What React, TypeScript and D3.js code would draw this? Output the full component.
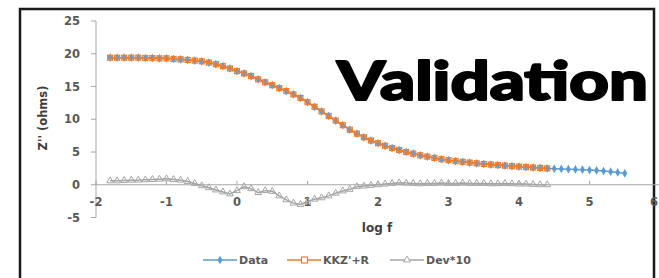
import React, { useEffect, useRef } from 'react';
import * as d3 from 'd3';

// log f values (one point per 0.1 decade)
const logF = [
  -1.8, -1.7, -1.6, -1.5, -1.4, -1.3, -1.2, -1.1, -1.0, -0.9,
  -0.8, -0.7, -0.6, -0.5, -0.4, -0.3, -0.2, -0.1, 0.0, 0.1,
  0.2, 0.3, 0.4, 0.5, 0.6, 0.7, 0.8, 0.9, 1.0, 1.1,
  1.2, 1.3, 1.4, 1.5, 1.6, 1.7, 1.8, 1.9, 2.0, 2.1,
  2.2, 2.3, 2.4, 2.5, 2.6, 2.7, 2.8, 2.9, 3.0, 3.1,
  3.2, 3.3, 3.4, 3.5, 3.6, 3.7, 3.8, 3.9, 4.0, 4.1,
  4.2, 4.3, 4.4, 4.5, 4.6, 4.7, 4.8, 4.9, 5.0, 5.1,
  5.2, 5.3, 5.4, 5.5,
];

// measured Z'' (ohms)
const dataZ = [
  19.4, 19.4, 19.4, 19.4, 19.4, 19.35, 19.35, 19.3, 19.3, 19.2,
  19.15, 19.05, 18.95, 18.85, 18.65, 18.4, 18.1, 17.75, 17.35, 17.0,
  16.6, 16.1, 15.65, 15.2, 14.75, 14.3, 13.8, 13.25, 12.6, 11.9,
  11.2, 10.5, 9.8, 9.1, 8.4, 7.8, 7.25, 6.75, 6.35, 5.95,
  5.6, 5.3, 5.0, 4.75, 4.5, 4.3, 4.1, 3.9, 3.75, 3.62,
  3.5, 3.38, 3.27, 3.17, 3.08, 3.0, 2.92, 2.84, 2.77, 2.7,
  2.63, 2.57, 2.5, 2.45, 2.42, 2.38, 2.34, 2.3, 2.25, 2.18,
  2.1, 2.0, 1.88, 1.75,
];

// KK fit, covers logF -1.8 .. 4.4
const kkZ = [
  19.4, 19.4, 19.4, 19.4, 19.4, 19.35, 19.35, 19.3, 19.3, 19.2,
  19.15, 19.05, 18.95, 18.85, 18.65, 18.4, 18.1, 17.75, 17.35, 17.0,
  16.6, 16.1, 15.65, 15.2, 14.75, 14.3, 13.8, 13.25, 12.6, 11.9,
  11.2, 10.5, 9.8, 9.1, 8.4, 7.8, 7.25, 6.75, 6.35, 5.95,
  5.6, 5.3, 5.0, 4.75, 4.5, 4.3, 4.1, 3.9, 3.75, 3.62,
  3.5, 3.38, 3.27, 3.17, 3.08, 3.0, 2.92, 2.84, 2.77, 2.7,
  2.63, 2.57, 2.5,
];

// deviation x10, covers logF -1.8 .. 4.4
const dev10 = [
  0.6, 0.6, 0.65, 0.7, 0.7, 0.75, 0.8, 0.85, 0.9, 0.8,
  0.7, 0.5, 0.2, -0.15, -0.45, -0.8, -1.1, -1.4, -0.9, -0.3,
  -0.6, -1.2, -0.9, -1.0, -1.7, -2.3, -2.8, -3.0, -2.6, -2.2,
  -2.0, -1.7, -1.3, -0.95, -0.7, -0.3, -0.2, -0.1, 0.0, 0.1,
  0.2, 0.3, 0.25, 0.2, 0.15, 0.2, 0.2, 0.25, 0.2, 0.2,
  0.25, 0.2, 0.2, 0.2, 0.15, 0.15, 0.2, 0.15, 0.1, 0.1,
  0.05, 0.0, 0.0,
];

const xTicks = [-2, -1, 0, 1, 2, 3, 4, 5, 6];
const yTicks = [-5, 0, 5, 10, 15, 20, 25];
const seriesNames = ['Data', "KKZ'+R", 'Dev*10'];

const BLUE = '#5b9bd5';
const ORANGE = '#ed7d31';
const GRAY = '#a5a5a5';

const App: React.FC = () => {
  const svgRef = useRef<SVGSVGElement>(null);

  useEffect(() => {
    if (!svgRef.current) return;
    const svg = d3.select(svgRef.current);
    svg.selectAll('*').remove();

    const x = d3.scaleLinear().domain([-2, 6]).range([96, 660]);
    const y = d3.scaleLinear().domain([-5, 25]).range([217.5, 21]);

    // outer frame
    svg.append('rect')
      .attr('x', 20).attr('y', 9)
      .attr('width', 634).attr('height', 300)
      .attr('fill', 'white')
      .attr('stroke', '#1a1a1a')
      .attr('stroke-width', 2.5);

    // y axis
    svg.append('line')
      .attr('x1', x(-2)).attr('x2', x(-2))
      .attr('y1', y(25)).attr('y2', y(-5))
      .attr('stroke', '#a6a6a6');
    svg.selectAll('.ytick')
      .data(yTicks)
      .enter()
      .append('line')
      .attr('x1', x(-2) - 5).attr('x2', x(-2))
      .attr('y1', d => y(d)).attr('y2', d => y(d))
      .attr('stroke', '#a6a6a6');
    svg.selectAll('.ylab')
      .data(yTicks)
      .enter()
      .append('text')
      .attr('x', 80)
      .attr('y', d => y(d) + 4)
      .attr('text-anchor', 'end')
      .attr('font-size', 11.5)
      .attr('font-weight', 'bold')
      .attr('fill', '#595959')
      .text(d => d);

    // x axis at zero
    svg.append('line')
      .attr('x1', x(-2)).attr('x2', x(6))
      .attr('y1', y(0)).attr('y2', y(0))
      .attr('stroke', '#a6a6a6');
    svg.selectAll('.xtick')
      .data(xTicks)
      .enter()
      .append('line')
      .attr('x1', d => x(d)).attr('x2', d => x(d))
      .attr('y1', y(0) - 4).attr('y2', y(0))
      .attr('stroke', '#a6a6a6');
    svg.selectAll('.xlab')
      .data(xTicks)
      .enter()
      .append('text')
      .attr('x', d => Math.min(x(d), 654))
      .attr('y', y(0) + 21)
      .attr('text-anchor', 'middle')
      .attr('font-size', 11.5)
      .attr('font-weight', 'bold')
      .attr('fill', '#595959')
      .text(d => d);

    svg.append('text')
      .attr('x', 377).attr('y', 232)
      .attr('text-anchor', 'middle')
      .attr('font-size', 12)
      .attr('font-weight', 'bold')
      .attr('fill', '#404040')
      .text('log f');

    svg.append('text')
      .attr('transform', 'translate(47,118) rotate(-90)')
      .attr('text-anchor', 'middle')
      .attr('font-size', 11.5)
      .attr('font-weight', 'bold')
      .attr('fill', '#404040')
      .text("Z'' (ohms)");

    const line = d3.line<number>()
      .x((_, i) => x(logF[i]))
      .y(d => y(d));

    // Data
    svg.append('path')
      .datum(dataZ)
      .attr('fill', 'none')
      .attr('stroke', BLUE)
      .attr('stroke-width', 1.5)
      .attr('d', line);
    const diamond = d3.symbol().type(d3.symbolDiamond).size(22);
    svg.selectAll('.dot')
      .data(dataZ)
      .enter()
      .append('path')
      .attr('transform', (d, i) => `translate(${x(logF[i])},${y(d)})`)
      .attr('d', diamond)
      .attr('fill', BLUE);

    // KK fit
    svg.append('path')
      .datum(kkZ)
      .attr('fill', 'none')
      .attr('stroke', ORANGE)
      .attr('stroke-width', 1.5)
      .attr('d', line);
    svg.selectAll('.sq')
      .data(kkZ)
      .enter()
      .append('rect')
      .attr('x', (d, i) => x(logF[i]) - 2.5)
      .attr('y', d => y(d) - 2.5)
      .attr('width', 5).attr('height', 5)
      .attr('fill', 'none')
      .attr('stroke', ORANGE)
      .attr('stroke-width', 1.2);

    // Dev*10
    svg.append('path')
      .datum(dev10)
      .attr('fill', 'none')
      .attr('stroke', GRAY)
      .attr('stroke-width', 1.5)
      .attr('d', line);
    const tri = d3.symbol().type(d3.symbolTriangle).size(20);
    svg.selectAll('.tri')
      .data(dev10)
      .enter()
      .append('path')
      .attr('transform', (d, i) => `translate(${x(logF[i])},${y(d)})`)
      .attr('d', tri)
      .attr('fill', 'none')
      .attr('stroke', GRAY)
      .attr('stroke-width', 1);

    // legend
    const legX = [203, 287, 390];
    const colors = [BLUE, ORANGE, GRAY];
    const ly = 260;
    seriesNames.forEach((name, i) => {
      const g = svg.append('g').attr('transform', `translate(${legX[i]},${ly})`);
      g.append('line')
        .attr('x1', 0).attr('x2', 34)
        .attr('stroke', colors[i])
        .attr('stroke-width', 1.5);
      if (i === 0) {
        g.append('path').attr('transform', 'translate(17,0)')
          .attr('d', diamond).attr('fill', BLUE);
      } else if (i === 1) {
        g.append('rect').attr('x', 14.5).attr('y', -3)
          .attr('width', 6).attr('height', 6)
          .attr('fill', 'white').attr('stroke', ORANGE).attr('stroke-width', 1.2);
      } else {
        g.append('path').attr('transform', 'translate(17,0)')
          .attr('d', tri).attr('fill', 'white').attr('stroke', GRAY);
      }
      g.append('text')
        .attr('x', 36).attr('y', 4)
        .attr('font-size', 11)
        .attr('font-weight', 'bold')
        .attr('fill', '#595959')
        .text(name);
    });

    // overlay title
    svg.append('text')
      .attr('x', 337).attr('y', 100)
      .attr('font-family', 'Lato, "DejaVu Sans", sans-serif')
      .attr('font-size', 54)
      .attr('font-weight', 900)
      .attr('fill', '#000')
      .attr('stroke', '#000')
      .attr('stroke-width', 2)
      .attr('stroke-linejoin', 'round')
      .attr('textLength', 311)
      .attr('lengthAdjust', 'spacingAndGlyphs')
      .text('Validation');
  }, []);

  return (
    <svg
      ref={svgRef}
      width={659}
      height={278}
      style={{ position: 'fixed', left: 0, top: 0, background: 'white', fontFamily: 'Verdana, "DejaVu Sans", sans-serif' }}
    />
  );
};

export default App;
